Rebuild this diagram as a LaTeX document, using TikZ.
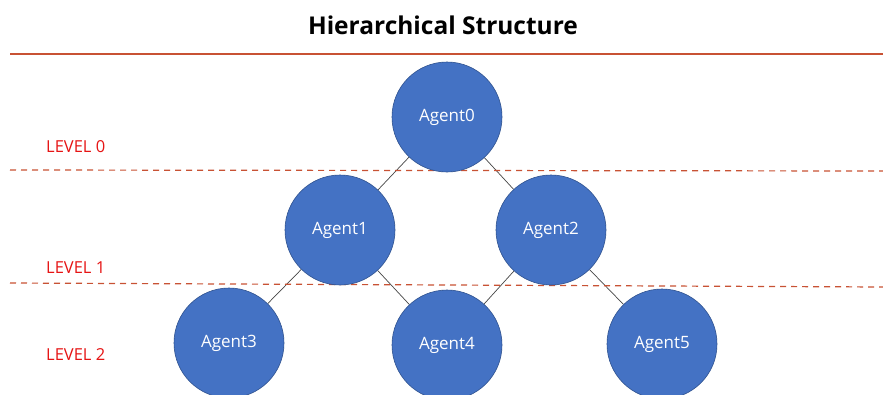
\documentclass[tikz,border=0pt]{standalone}
\usepackage{fontspec}
\setmainfont{Open Sans}
\usetikzlibrary{backgrounds}
\definecolor{agentfill}{RGB}{68,114,196}
\definecolor{agentedge}{RGB}{47,82,143}
\definecolor{rulered}{RGB}{200,82,52}
\definecolor{levelred}{RGB}{230,20,20}
\definecolor{linkgray}{RGB}{70,70,70}
\tikzset{
  agent/.style={circle, draw=agentedge, line width=0.6pt, fill=agentfill,
    minimum size=110pt, inner sep=0pt, text=white, font=\fontsize{17}{20}\selectfont},
  link/.style={draw=linkgray, line width=0.7pt},
  levelline/.style={draw=rulered, line width=1.2pt, dash pattern=on 6pt off 5pt},
  levellabel/.style={text=levelred, anchor=west, font=\fontsize{16.5}{20}\selectfont, inner sep=0pt},
}
\begin{document}
\begin{tikzpicture}[x=1pt, y=-1pt]
  \useasboundingbox (0,0) rectangle (883,394);
  \clip (0,0) rectangle (883,394);

  % title and top rule
  \node[font=\fontsize{24.5}{29}\selectfont\bfseries, inner sep=0pt] (title) at (443,25) {Hierarchical Structure};
  \coordinate (ruleL) at (10,54);
  \coordinate (ruleR) at (883,54);
  \draw[draw=rulered, line width=1.6pt] (ruleL) -- (ruleR);

  % level separators
  \coordinate (sepAL) at (10,170);
  \coordinate (sepAR) at (883,171);
  \coordinate (sepBL) at (10,283);
  \coordinate (sepBR) at (883,287);
  \draw[levelline] (sepAL) -- (sepAR);
  \draw[levelline] (sepBL) -- (sepBR);

  % level labels
  \node[levellabel] (lv0) at (46,147) {LEVEL 0};
  \node[levellabel] (lv1) at (46,268) {LEVEL 1};
  \node[levellabel] (lv2) at (46,355) {LEVEL 2};

  % agents
  \node[agent] (a0) at (447,117) {Agent0};
  \node[agent] (a1) at (340,230) {Agent1};
  \node[agent] (a2) at (551,230) {Agent2};
  \node[agent] (a3) at (229,343) {Agent3};
  \node[agent] (a4) at (447,345) {Agent4};
  \node[agent] (a5) at (662,344) {Agent5};

  % hierarchy links, kept behind the agents
  \begin{scope}[on background layer]
    \fill[white] (0,0) rectangle (883,394);
    \draw[link] (a0) -- (a1);
    \draw[link] (a0) -- (a2);
    \draw[link] (a1) -- (a3);
    \draw[link] (a1) -- (a4);
    \draw[link] (a2) -- (a4);
    \draw[link] (a2) -- (a5);
  \end{scope}
\end{tikzpicture}
\end{document}
